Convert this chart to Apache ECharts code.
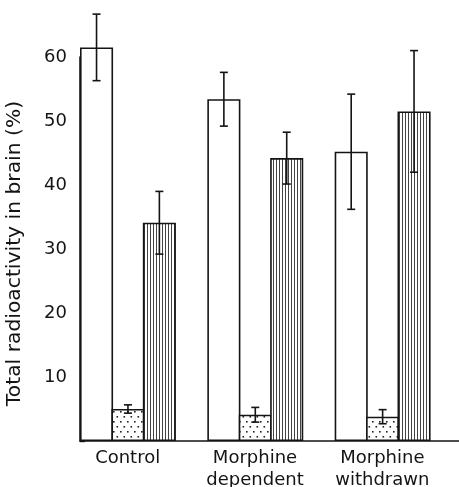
<!DOCTYPE html>
<html>
<head>
<meta charset="utf-8">
<script src="https://cdn.jsdelivr.net/npm/echarts@6/dist/echarts.min.js"></script>
<style>
  html, body { margin: 0; padding: 0; background: #fff; }
  #chart { width: 459px; height: 487px; }
</style>
</head>
<body>
<div id="chart"></div>
<script>
// Groups along the x axis
const categories = ['Control', 'Morphine\ndependent', 'Morphine\nwithdrawn'];

// Open bars (mean and half-range of error bar)
const openValues = [61.5, 53.4, 45.2];
const openErrors = [5.2, 4.2, 9.0];

// Stippled bars
const dottedValues = [5.0, 4.1, 3.8];
const dottedErrors = [0.65, 1.15, 1.1];

// Vertically hatched bars
const stripedValues = [34.1, 44.2, 51.5];
const stripedErrors = [4.9, 4.05, 9.5];

// Y axis ticks
const yTicks = [0, 10, 20, 30, 40, 50, 60];

const INK = '#141414';
const FONT = 'DejaVu Sans';
// Neighbouring bars overlap by their outline so they share one edge
const GAP = -0.05;

function dotPattern() {
  const c = document.createElement('canvas');
  c.width = 7; c.height = 10;
  const g = c.getContext('2d');
  g.fillStyle = '#fff'; g.fillRect(0, 0, 7, 10);
  g.fillStyle = '#222';
  g.fillRect(1, 1, 1.6, 1.6);
  g.fillRect(4.5, 6, 1.6, 1.6);
  return c;
}

function stripePattern() {
  const c = document.createElement('canvas');
  c.width = 3; c.height = 4;
  const g = c.getContext('2d');
  g.fillStyle = '#fff'; g.fillRect(0, 0, 3, 4);
  g.fillStyle = '#444';
  g.fillRect(0, 0, 1, 4);
  return c;
}

// Error bar glyph: centred on the bar in the given slot of each category band
function renderError(params, api) {
  const ci = api.value(0), v = api.value(1), e = api.value(2), slot = api.value(3);
  const c = api.coord([ci, v]);
  const bw = api.size([1, 0])[0];
  const barW = bw / (4 + 3 * GAP);
  const x = c[0] - bw / 2 + barW * (slot * (1 + GAP) + 0.5);
  const top = api.coord([ci, v + e])[1];
  const bot = api.coord([ci, v - e])[1];
  const h = 4;
  const st = { stroke: INK, lineWidth: 1.6 };
  return {
    type: 'group',
    children: [
      { type: 'line', shape: { x1: x, y1: top, x2: x, y2: bot }, style: st },
      { type: 'line', shape: { x1: x - h, y1: top, x2: x + h, y2: top }, style: st },
      { type: 'line', shape: { x1: x - h, y1: bot, x2: x + h, y2: bot }, style: st }
    ]
  };
}

function errData(values, errors, slot) {
  return values.map((v, i) => [i, v, errors[i], slot]);
}

const barStyle = { borderColor: INK, borderWidth: 1.6 };
const gapPct = (GAP * 100) + '%';

const chart = echarts.init(document.getElementById('chart'), null, { renderer: 'canvas' });
chart.setOption({
  animation: false,
  backgroundColor: '#fff',
  grid: { left: 80, width: 382, top: 57, height: 384, containLabel: false, outerBoundsMode: 'none' },
  xAxis: {
    type: 'category',
    data: categories,
    axisLine: { lineStyle: { color: INK, width: 1.6 } },
    axisTick: { show: false },
    axisLabel: {
      interval: 0, color: INK, fontFamily: FONT, fontSize: 18, lineHeight: 22,
      margin: 6.5, padding: [0, 32, 0, 0]
    }
  },
  yAxis: {
    type: 'value',
    min: yTicks[0], max: yTicks[yTicks.length - 1], interval: yTicks[1] - yTicks[0],
    name: 'Total radioactivity in brain (%)',
    nameLocation: 'middle', nameGap: 55,
    nameTextStyle: { color: INK, fontFamily: FONT, fontSize: 20.3, padding: [0, 9, 0, 0] },
    axisLine: { show: true, lineStyle: { color: INK, width: 1.6 } },
    axisTick: { show: true, inside: true, length: 5, lineStyle: { color: INK, width: 1.4 } },
    axisLabel: {
      color: INK, fontFamily: FONT, fontSize: 18, margin: 13,
      formatter: v => (v === 0 ? '' : String(v))
    },
    splitLine: { show: false }
  },
  series: [
    { type: 'bar', data: openValues, clip: false, barGap: gapPct, barCategoryGap: '0%',
      itemStyle: Object.assign({ color: '#fff' }, barStyle) },
    { type: 'bar', data: dottedValues, clip: false, barGap: gapPct, barCategoryGap: '0%',
      itemStyle: Object.assign({ color: { image: dotPattern(), repeat: 'repeat' } }, barStyle) },
    { type: 'bar', data: stripedValues, clip: false, barGap: gapPct, barCategoryGap: '0%',
      itemStyle: Object.assign({ color: { image: stripePattern(), repeat: 'repeat' } }, barStyle) },
    // empty fourth slot leaves the gap after each group
    { type: 'bar', data: [null, null, null], silent: true, barGap: gapPct, barCategoryGap: '0%' },
    { type: 'custom', renderItem: renderError, data: errData(openValues, openErrors, 0),
      encode: { x: 0, y: 1 }, clip: false, z: 5 },
    { type: 'custom', renderItem: renderError, data: errData(dottedValues, dottedErrors, 1),
      encode: { x: 0, y: 1 }, clip: false, z: 5 },
    { type: 'custom', renderItem: renderError, data: errData(stripedValues, stripedErrors, 2),
      encode: { x: 0, y: 1 }, clip: false, z: 5 }
  ]
});
</script>
</body>
</html>
